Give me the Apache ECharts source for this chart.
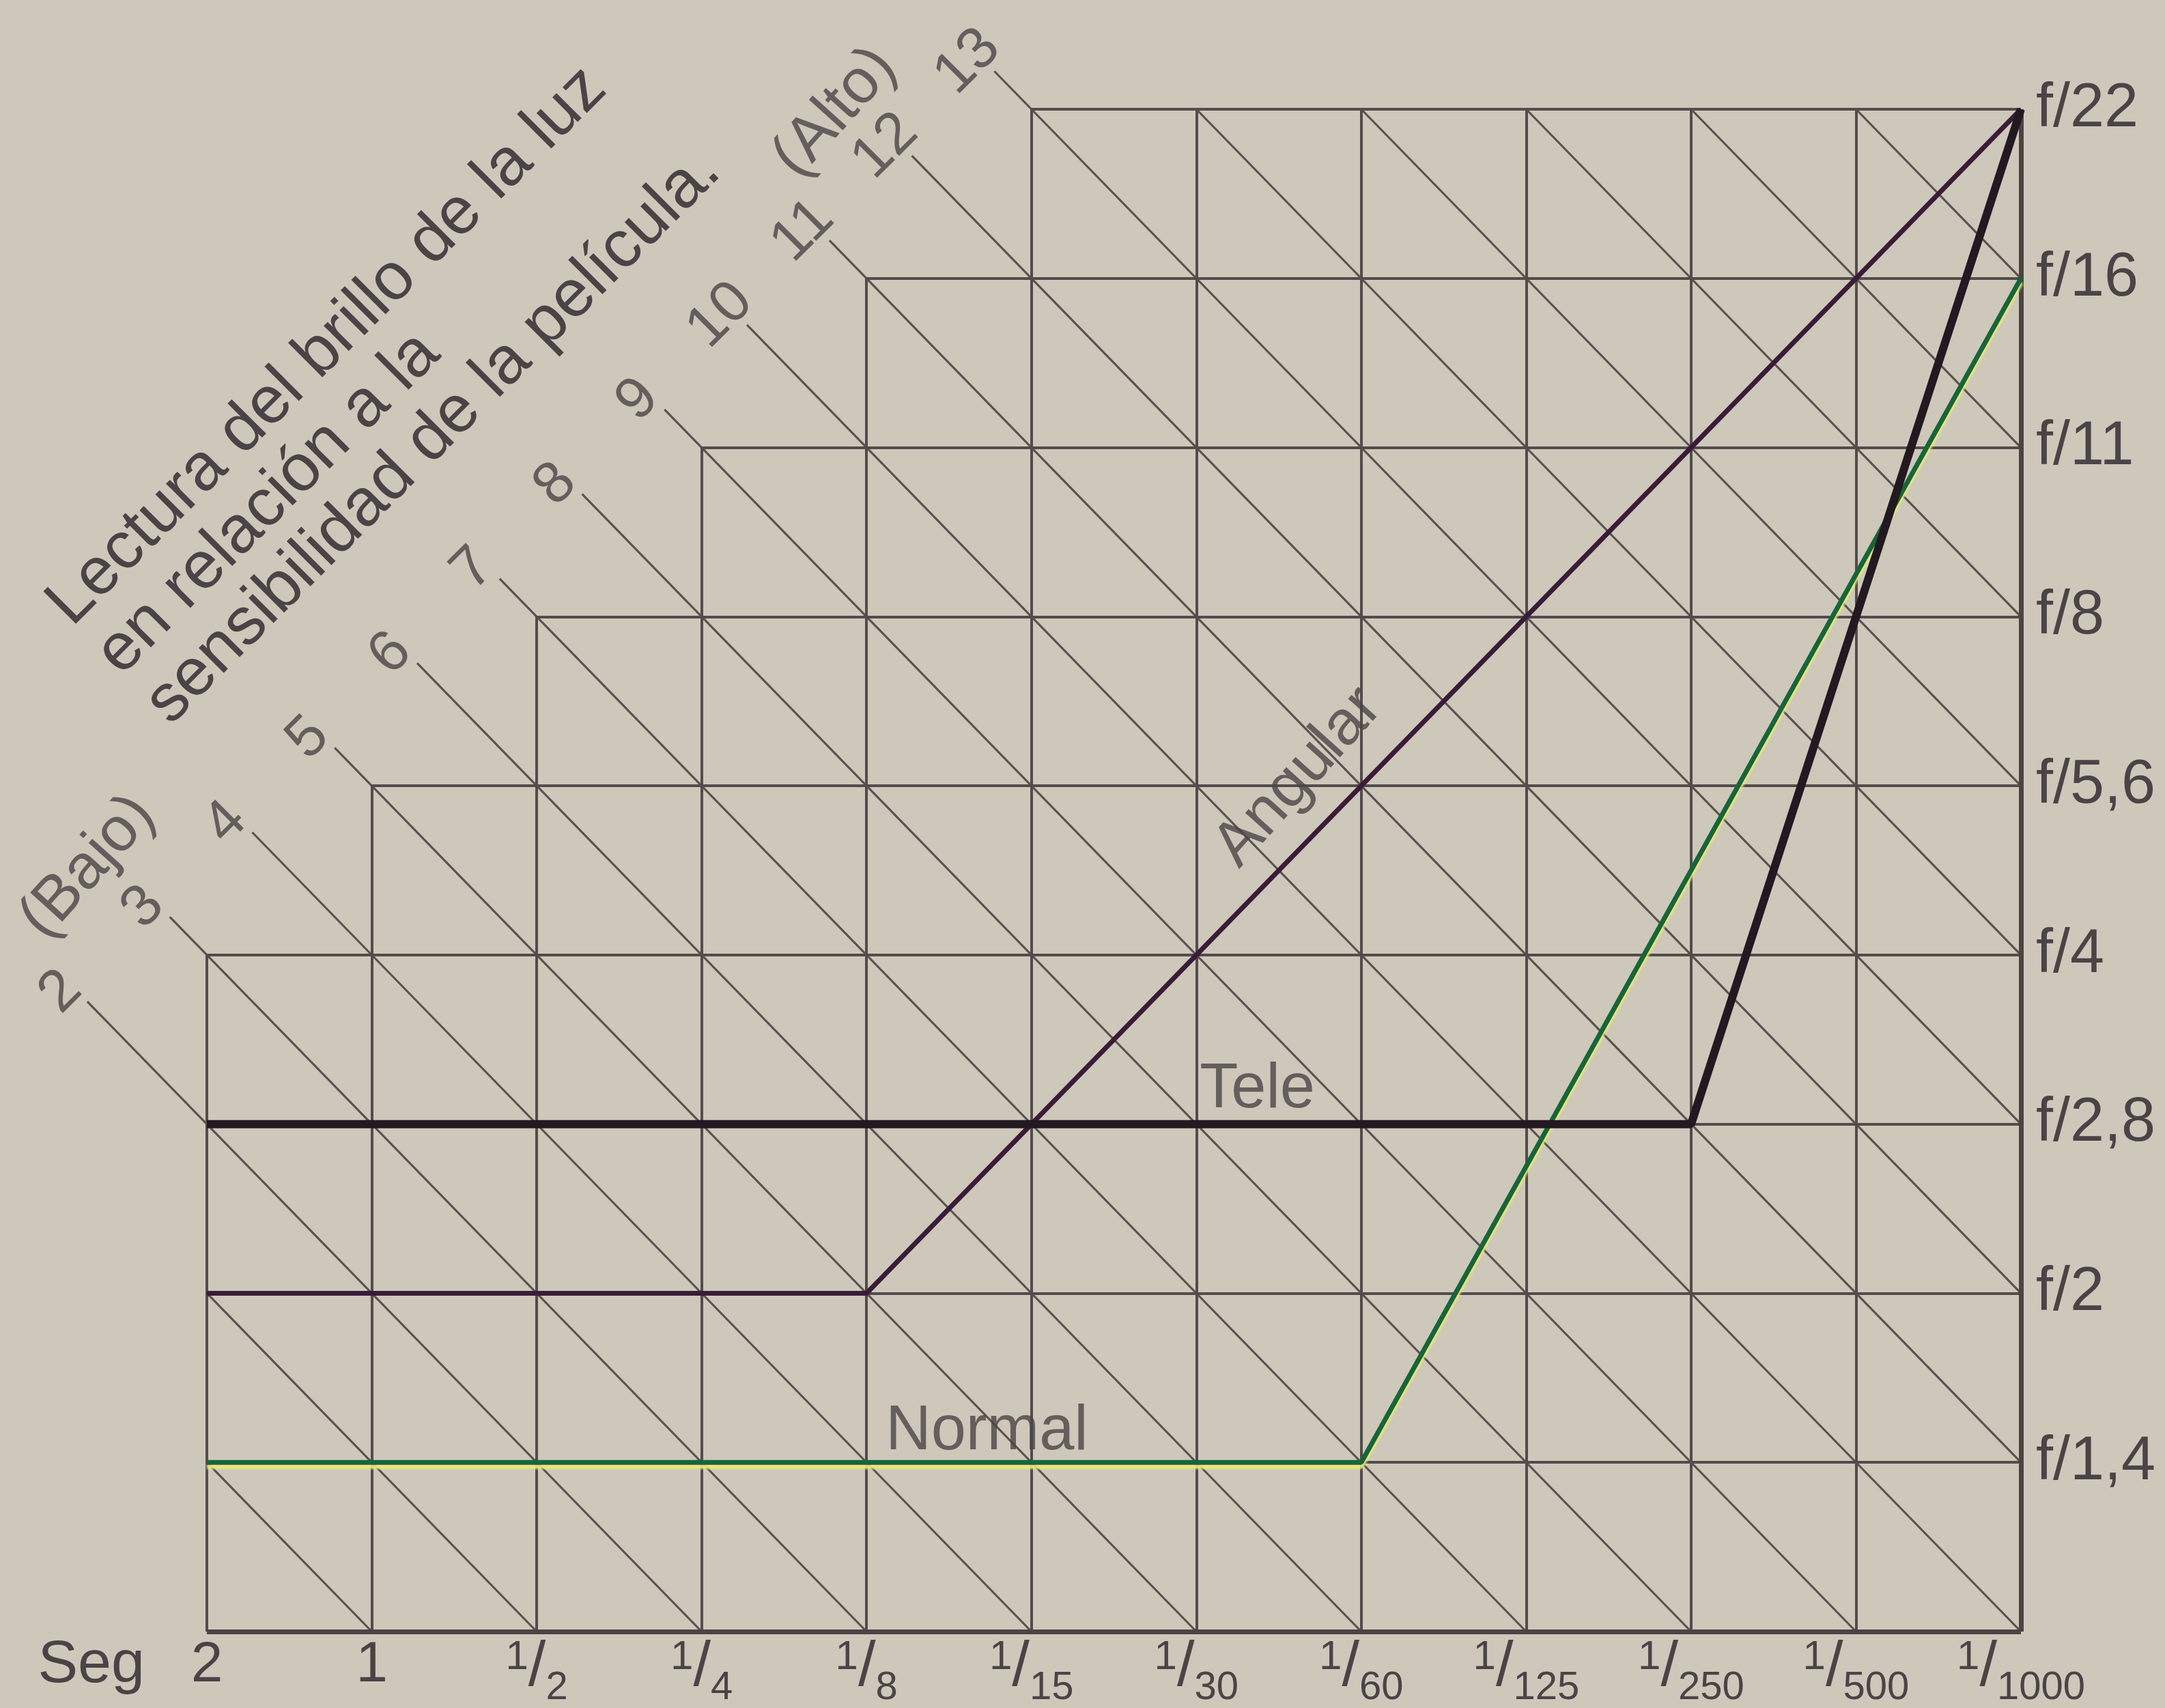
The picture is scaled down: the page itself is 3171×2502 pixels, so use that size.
<!DOCTYPE html>
<html><head><meta charset="utf-8">
<script src="https://cdn.jsdelivr.net/npm/echarts@6/dist/echarts.min.js"></script>
<style>html,body{margin:0;padding:0;background:#cdc8ba;}#c{width:3171px;height:2502px;}</style>
</head><body><div id="c"></div>
<script>
// ---- data ----
const shutterLabels = ['2','1','1/2','1/4','1/8','1/15','1/30','1/60','1/125','1/250','1/500','1/1000'];
const apertureLabels = ['', 'f/1,4','f/2','f/2,8','f/4','f/5,6','f/8','f/11','f/16','f/22'];
const brightnessLabels = [2,3,4,5,6,7,8,9,10,11,12,13];
const columnTops = [4,5,6,7,8,9,9,9,9,9,9];   // highest aperture row of each shutter band
const angularLine = [['2','f/2'],['1/8','f/2'],['1/1000','f/22']];
const teleLine    = [['2','f/2,8'],['1/250','f/2,8'],['1/1000','f/22']];
const normalLine  = [['2','f/1,4'],['1/60','f/1,4'],['1/1000','f/16']];
const titleLines = ['Lectura del brillo de la luz','en relación a la','sensibilidad de la película.'];

// ---- build ----
const FONT = "'Liberation Sans', Arial, Helvetica, sans-serif";
const TXT = '#4a4446';
const nCols = shutterLabels.length - 1;
const nRows = apertureLabels.length - 1;
const xi = s => shutterLabels.indexOf(s);
const yi = a => apertureLabels.indexOf(a);
const toPts = arr => arr.map(([s,a]) => [xi(s), yi(a)]);
const topAt = k => Math.max(k>0?columnTops[k-1]:0, k<nCols?columnTops[k]:0);

const gridSegs = [];
for (let k=0;k<nCols;k++) gridSegs.push({coords:[[k,0],[k,topAt(k)]]});
for (let r=1;r<=nRows;r++){ const c0 = columnTops.findIndex(t=>t>=r); gridSegs.push({coords:[[c0,r],[nCols,r]]}); }
const edgeSegs = [{coords:[[0,0],[nCols,0]]},{coords:[[nCols,0],[nCols,topAt(nCols)]]}];

const diagSegs = [], labelPts = [];
const END = 4.45, LOFFX = 0.16, LOFFY = 0.055;
for (let s=1; s<=nCols+nRows; s++){
  let entry = null;
  for (let c=0;c<nCols;c++){ const x = Math.max(c, s-columnTops[c]); if (x<=c+1){entry=x;break;} }
  const exit = Math.min(nCols, s);
  if (entry===null || entry>=exit) continue;
  const n = s-1;
  let start = [entry, s-entry];
  if (brightnessLabels.includes(n)){
    const xe = (s-END)/2;
    start = [xe, s-xe];
    labelPts.push({value:[xe-LOFFX, s-xe+LOFFY], label:{formatter:String(n)}});
  }
  diagSegs.push({coords:[start,[exit, s-exit]]});
}

const annots = [
  {value:[6.62,5.05], label:{formatter:'Angular', rotate:48}},
  {value:[6.37,3.2], label:{formatter:'Tele', rotate:0}},
  {value:[4.73,1.18], label:{formatter:'Normal', rotate:0}},
  {value:[-0.72,4.52], label:{formatter:'(Bajo)', rotate:48}},
  {value:[3.81,8.98], label:{formatter:'(Alto)', rotate:48}}
];

function xLabel(v){
  const t = shutterLabels[v];
  if (t === undefined) return '';
  if (t.indexOf('/')<0) return '{w|'+t+'}';
  const p = t.split('/');
  return '{n|'+p[0]+'}{s|/}{d|'+p[1]+'}';
}

const th = 45*Math.PI/180;
const T0 = [121, 935], STEP = 102;
const titleGraphics = titleLines.map((t,i)=>({
  type:'text', x:T0[0]+i*STEP*Math.sin(th), y:T0[1]+i*STEP*Math.cos(th), rotation:th, z:10,
  style:{text:t, x:0, y:0, align:'left', verticalAlign:'bottom', font:'98px '+FONT, fill:TXT}
}));

const chart = echarts.init(document.getElementById('c'), null, {renderer:'canvas', width:3171, height:2502});
chart.setOption({
  backgroundColor:'#cdc8ba',
  animation:false,
  grid:{left:303, right:211, top:160, bottom:109, containLabel:false},
  xAxis:{type:'value', min:0, max:nCols, interval:1,
    axisLine:{show:false}, axisTick:{show:false}, splitLine:{show:false},
    axisLabel:{margin:8, verticalAlign:'top', formatter:xLabel, color:TXT, fontFamily:FONT,
      rich:{
        w:{fontSize:84, lineHeight:100, verticalAlign:'top', color:TXT, fontFamily:FONT},
        n:{fontSize:60, lineHeight:66, verticalAlign:'top', color:TXT, fontFamily:FONT},
        s:{fontSize:92, lineHeight:104, verticalAlign:'top', color:TXT, fontFamily:FONT},
        d:{fontSize:58, lineHeight:66, verticalAlign:'bottom', color:TXT, fontFamily:FONT}
      }}},
  yAxis:{type:'value', position:'right', min:0, max:nRows, interval:1,
    axisLine:{show:false}, axisTick:{show:false}, splitLine:{show:false},
    axisLabel:{margin:22, fontSize:90, color:TXT, fontFamily:FONT, formatter:v=>apertureLabels[v]||''}},
  graphic:[...titleGraphics,
    {type:'text', x:212, y:2440, z:10, style:{text:'Seg', align:'right', verticalAlign:'middle', font:'88px '+FONT, fill:TXT}}],
  series:[
    {type:'lines', coordinateSystem:'cartesian2d', clip:false, z:2, silent:true,
      lineStyle:{color:'#5a5350', width:3.2, opacity:1}, data:diagSegs},
    {type:'lines', coordinateSystem:'cartesian2d', clip:false, z:3, silent:true,
      lineStyle:{color:'#524c4b', width:4, opacity:1}, data:gridSegs},
    {type:'lines', coordinateSystem:'cartesian2d', clip:false, z:3, silent:true,
      lineStyle:{color:'#4a4443', width:7, opacity:1}, data:edgeSegs},
    {type:'line', name:'Normal', z:5, showSymbol:false, data:toPts(normalLine),
      lineStyle:{color:'#17653a', width:7, shadowColor:'rgba(236,232,120,0.95)', shadowOffsetY:6, shadowBlur:3}},
    {type:'line', name:'Angular', z:6, showSymbol:false, data:toPts(angularLine),
      lineStyle:{color:'#3a1c38', width:7}},
    {type:'line', name:'Tele', z:7, showSymbol:false, data:toPts(teleLine),
      lineStyle:{color:'#221921', width:12}},
    {type:'scatter', z:8, clip:false, symbolSize:0, silent:true, data:labelPts,
      label:{show:true, position:'inside', rotate:45, fontSize:86, color:TXT, fontFamily:FONT}},
    {type:'scatter', z:8, clip:false, symbolSize:0, silent:true, data:annots,
      label:{show:true, position:'inside', fontSize:92, color:TXT, fontFamily:FONT}}
  ]
});
</script></body></html>
